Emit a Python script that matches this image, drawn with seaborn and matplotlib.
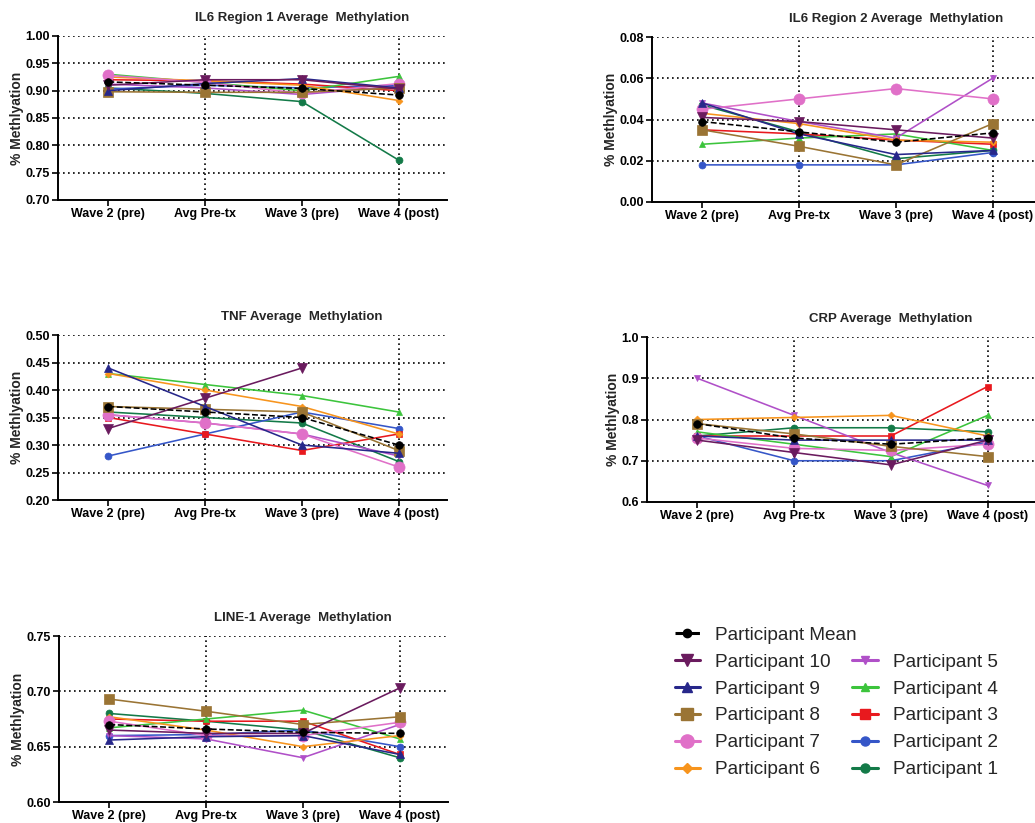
import numpy as np
import pandas as pd
import matplotlib
matplotlib.use("Agg")
import matplotlib.pyplot as plt
import seaborn as sns

sns.set_theme(style="white")
plt.rcParams['font.family'] = ['Liberation Sans', 'DejaVu Sans']

categories = ["Wave 2 (pre)", "Avg Pre-tx", "Wave 3 (pre)", "Wave 4 (post)"]
series_names = ["Participant 10", "Participant 9", "Participant 8", "Participant 7",
                "Participant 6", "Participant 5", "Participant 4", "Participant 3",
                "Participant 2", "Participant 1", "Participant Mean"]

il6_r1 = {
    "Participant 1":  [0.905, 0.895, 0.880, 0.773],
    "Participant 2":  [0.903, 0.910, 0.905, 0.910],
    "Participant 3":  [0.920, 0.918, 0.912, 0.900],
    "Participant 4":  [0.930, 0.915, 0.900, 0.926],
    "Participant 5":  [0.912, 0.905, 0.893, 0.908],
    "Participant 6":  [0.925, 0.918, 0.910, 0.882],
    "Participant 7":  [0.928, 0.915, 0.895, 0.913],
    "Participant 8":  [0.898, 0.897, 0.897, 0.905],
    "Participant 9":  [0.900, 0.913, 0.922, 0.905],
    "Participant 10": [0.910, 0.920, 0.920, 0.903],
    "Participant Mean": [0.916, 0.910, 0.904, 0.892],
}
il6_r2 = {
    "Participant 1":  [0.047, 0.034, 0.021, 0.025],
    "Participant 2":  [0.018, 0.018, 0.018, 0.024],
    "Participant 3":  [0.035, 0.033, 0.030, 0.028],
    "Participant 4":  [0.028, 0.031, 0.033, 0.025],
    "Participant 5":  [0.048, 0.039, 0.031, 0.060],
    "Participant 6":  [0.043, 0.038, 0.030, 0.029],
    "Participant 7":  [0.045, 0.050, 0.055, 0.050],
    "Participant 8":  [0.035, 0.027, 0.018, 0.038],
    "Participant 9":  [0.048, 0.033, 0.023, 0.025],
    "Participant 10": [0.041, 0.039, 0.035, 0.031],
    "Participant Mean": [0.039, 0.034, 0.029, 0.0335],
}
tnf = {
    "Participant 1":  [0.360, 0.350, 0.340, 0.270],
    "Participant 2":  [0.280, 0.320, 0.360, 0.330],
    "Participant 3":  [0.350, 0.320, 0.290, 0.320],
    "Participant 4":  [0.430, 0.410, 0.390, 0.360],
    "Participant 5":  [0.355, 0.340, 0.320, 0.280],
    "Participant 6":  [0.430, 0.400, 0.370, 0.320],
    "Participant 7":  [0.355, 0.340, 0.320, 0.260],
    "Participant 8":  [0.370, 0.365, 0.360, 0.290],
    "Participant 9":  [0.440, 0.370, 0.300, 0.285],
    "Participant 10": [0.330, 0.385, 0.440, np.nan],
    "Participant Mean": [0.370, 0.360, 0.350, 0.300],
}
crp = {
    "Participant 1":  [0.760, 0.780, 0.780, 0.770],
    "Participant 2":  [0.760, 0.700, 0.700, 0.745],
    "Participant 3":  [0.760, 0.760, 0.760, 0.880],
    "Participant 4":  [0.770, 0.740, 0.710, 0.810],
    "Participant 5":  [0.900, 0.810, 0.720, 0.640],
    "Participant 6":  [0.800, 0.805, 0.810, 0.760],
    "Participant 7":  [0.755, 0.730, 0.725, 0.740],
    "Participant 8":  [0.790, 0.765, 0.735, 0.710],
    "Participant 9":  [0.760, 0.750, 0.750, 0.750],
    "Participant 10": [0.750, 0.720, 0.690, 0.750],
    "Participant Mean": [0.790, 0.755, 0.740, 0.755],
}
line1 = {
    "Participant 1":  [0.680, 0.673, 0.665, 0.640],
    "Participant 2":  [0.660, 0.661, 0.665, 0.650],
    "Participant 3":  [0.675, 0.673, 0.673, 0.643],
    "Participant 4":  [0.667, 0.675, 0.683, 0.657],
    "Participant 5":  [0.660, 0.657, 0.640, 0.670],
    "Participant 6":  [0.677, 0.665, 0.650, 0.660],
    "Participant 7":  [0.673, 0.660, 0.660, 0.672],
    "Participant 8":  [0.693, 0.682, 0.670, 0.677],
    "Participant 9":  [0.656, 0.659, 0.660, 0.643],
    "Participant 10": [0.665, 0.662, 0.662, 0.703],
    "Participant Mean": [0.670, 0.666, 0.663, 0.662],
}

styles = {
    "Participant 10": dict(color="#6a1b5e", marker="v", ms=7),
    "Participant 9":  dict(color="#27278a", marker="^", ms=6),
    "Participant 8":  dict(color="#9a7434", marker="s", ms=7),
    "Participant 7":  dict(color="#e070c8", marker="o", ms=8),
    "Participant 6":  dict(color="#f7941d", marker="D", ms=3.5),
    "Participant 5":  dict(color="#b050c8", marker="v", ms=4.5),
    "Participant 4":  dict(color="#3cc43c", marker="^", ms=4.5),
    "Participant 3":  dict(color="#e8191e", marker="s", ms=5),
    "Participant 2":  dict(color="#3556c8", marker="o", ms=5),
    "Participant 1":  dict(color="#137a48", marker="o", ms=5),
    "Participant Mean": dict(color="black", marker="o", ms=5.5),
}

panels = [
    ("IL6 Region 1 Average  Methylation", il6_r1, (0.70, 1.00), np.arange(0.70, 1.001, 0.05), "%.2f",
     [58, 36, 447, 200]),
    ("IL6 Region 2 Average  Methylation", il6_r2, (0.0, 0.08), np.arange(0.0, 0.0801, 0.02), "%.2f",
     [652, 37, 1041, 202]),
    ("TNF Average  Methylation", tnf, (0.20, 0.50), np.arange(0.20, 0.501, 0.05), "%.2f",
     [58, 335, 447, 500]),
    ("CRP Average  Methylation", crp, (0.6, 1.0), np.arange(0.6, 1.001, 0.1), "%.1f",
     [647, 337, 1036, 502]),
    ("LINE-1 Average  Methylation", line1, (0.60, 0.75), np.arange(0.60, 0.751, 0.05), "%.2f",
     [59, 636, 448, 802]),
]

W, H = 1035, 823
fig = plt.figure(figsize=(W / 100, H / 100), dpi=100)
fig.patch.set_facecolor("white")

draw_order = ["Participant 1", "Participant 2", "Participant 3", "Participant 4", "Participant 5",
              "Participant 6", "Participant 7", "Participant 8", "Participant 9", "Participant 10",
              "Participant Mean"]

for title, data, ylim, yticks, fmt, (x0, y0, x1, y1) in panels:
    ax = fig.add_axes([x0 / W, 1 - y1 / H, (x1 - x0) / W, (y1 - y0) / H])
    ax.set_facecolor("white")
    xs = np.arange(len(categories))
    for name in draw_order:
        st = styles[name]
        df = pd.DataFrame({"x": xs, "y": data[name]})
        sns.lineplot(data=df, x="x", y="y", ax=ax, color=st["color"], marker=st["marker"],
                     markersize=st["ms"], markeredgewidth=0.5, markeredgecolor=st["color"],
                     linewidth=1.15, linestyle="--" if name == "Participant Mean" else "-",
                     errorbar=None, zorder=4 if name == "Participant Mean" else 3)
    ax.set_xlim(-0.52, 3.5)
    ax.set_ylim(*ylim)
    ax.set_yticks(yticks)
    ax.set_yticklabels([fmt % v for v in yticks], fontsize=9, fontweight="bold")
    ax.set_xticks(xs)
    ax.set_xticklabels(categories, fontsize=9, fontweight="bold")
    for v in yticks[1:]:
        ax.axhline(v, color="black", linestyle=(0, (1, 2)), linewidth=1.2, zorder=1)
    for c in (categories[1], categories[3]):
        ax.axvline(categories.index(c), color="black", linestyle=(0, (1, 2)), linewidth=1.2, zorder=1)
    for s in ("top", "right"):
        ax.spines[s].set_visible(False)
    for s in ("left", "bottom"):
        ax.spines[s].set_color("black")
        ax.spines[s].set_linewidth(1.4)
    ax.tick_params(axis="both", direction="out", length=4, width=1.2, colors="black",
                   bottom=True, left=True, pad=2)
    ax.set_xlabel("")
    ax.set_ylabel("% Methlyation", fontsize=10, fontweight="bold", labelpad=1)
    ax.set_title(title, fontsize=9.5, fontweight="bold", x=0.627, pad=11)
    ax.grid(False)


def make_handle(name):
    st = styles[name]
    if name == "Participant Mean":
        return plt.Line2D([], [], color="black", linestyle=(0, (3, 2)), linewidth=2.2, marker="o",
                          markersize=6)
    return plt.Line2D([], [], color=st["color"], linestyle="-", linewidth=2.2, marker=st["marker"],
                      markersize=st["ms"] + 1.5)


leg_kw = dict(frameon=False, fontsize=13.7, handlelength=1.35, handletextpad=0.8,
              labelspacing=0.5, borderpad=0, loc="upper left")

# legend row for the mean
fig.legend([make_handle("Participant Mean")], ["Participant Mean"],
           bbox_to_anchor=(665 / W, 1 - 617 / H), **leg_kw)

# two-column legend for participants
part_order = ["Participant 10", "Participant 9", "Participant 8", "Participant 7", "Participant 6",
              "Participant 5", "Participant 4", "Participant 3", "Participant 2", "Participant 1"]
fig.legend([make_handle(n) for n in part_order], part_order, ncol=2, columnspacing=1.1,
           bbox_to_anchor=(665 / W, 1 - 644 / H), **leg_kw)

fig.savefig("out.png", dpi=100, facecolor="white")
